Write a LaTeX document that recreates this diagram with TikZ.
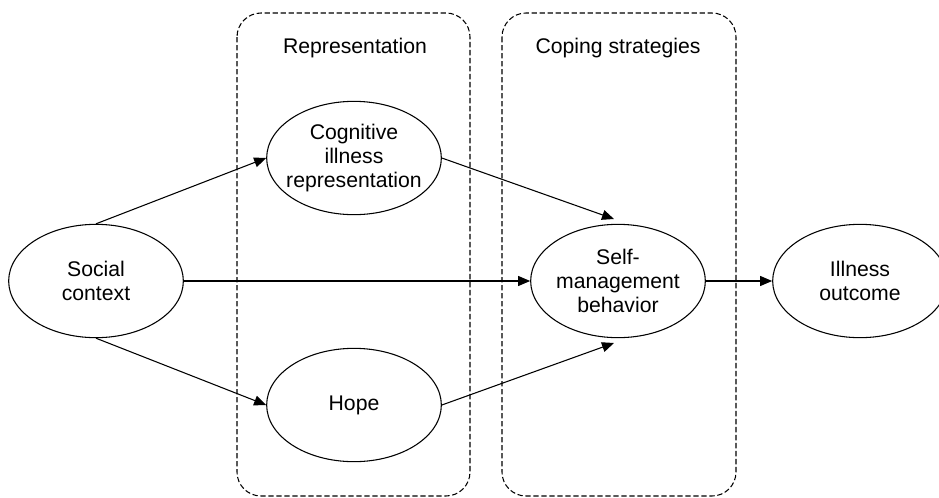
\documentclass[tikz,border=0pt]{standalone}
\usepackage{fontspec}
\setmainfont{Liberation Sans}
\usetikzlibrary{shapes.geometric,arrows.meta}

\tikzset{
  bubble/.style={shape=ellipse,draw,line width=0.8pt,minimum width=131pt,
    minimum height=85pt,inner xsep=-8pt,inner ysep=0pt,align=center},
  group/.style={draw,dashed,dash pattern=on 4pt off 2pt,line width=0.8pt,rounded corners=18pt},
  link/.style={line width=0.8pt,-{Triangle[length=9pt,width=7.5pt]}}
}

\begin{document}
\begin{tikzpicture}[x=0.75pt,y=-0.75pt,font=\fontsize{15.9}{18}\selectfont]
  \useasboundingbox (0,0) rectangle (939,497);

  \draw[group] (237,13) rectangle (470,496);
  \draw[group] (502,13) rectangle (736,496);
  \node (rep) at (355,48) {Representation};
  \node (cop) at (618,48) {Coping strategies};

  \node[bubble] (soc)  at (96,281)  {Social\\context};
  \node[bubble] (cog)  at (354,158) {Cognitive\\illness\\representation};
  \node[bubble] (hope) at (354,405) {Hope};
  \node[bubble] (self) at (618,281) {Self-\\management\\behavior};
  \node[bubble] (out)  at (860,281) {Illness\\outcome};

  \coordinate (selfin1) at (614,219);
  \coordinate (selfin2) at (614,343);

  \draw[link] (soc.north) -- (cog.west);
  \draw[link] (soc.south) -- (hope.west);
  \draw[link] (soc.east) -- (self.west);
  \draw[link] (cog.east) -- (selfin1);
  \draw[link] (hope.east) -- (selfin2);
  \draw[link] (self.east) -- (out.west);

\end{tikzpicture}
\end{document}
